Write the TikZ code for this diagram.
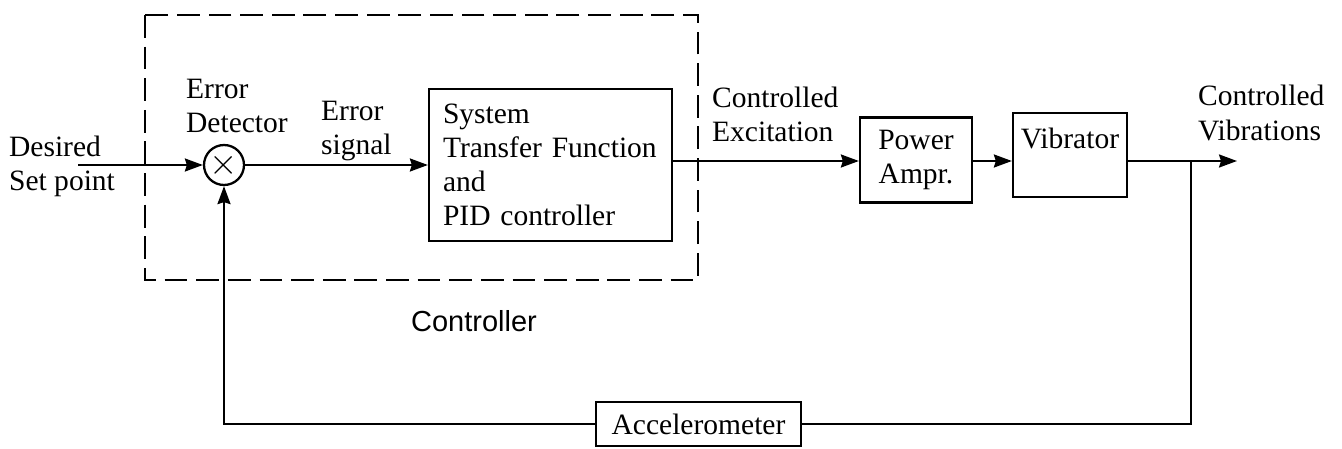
\documentclass[tikz,border=0pt]{standalone}
\usepackage{fontspec}
\setmainfont{Liberation Serif}
\setsansfont{Liberation Sans}
\usepackage{tikz}
\usetikzlibrary{arrows.meta, positioning, calc}

\begin{document}
\begin{tikzpicture}[
    x=0.02cm, y=-0.02cm,
    line width=1.3pt,
    every node/.style={font=\fontsize{16.8pt}{19.4pt}\selectfont},
    lbl/.style={align=left, anchor=west, inner sep=0pt},
    block/.style={draw, line width=1.3pt, rectangle, inner sep=0.3cm},
    sigarrow/.style={-{Stealth[length=3.6mm, width=2.6mm, inset=0.4mm]}},
    ctrlbox/.style={draw, line width=1.3pt, dash pattern=on 13pt off 5pt},
]
\useasboundingbox (0,0) rectangle (1342,449);
\draw[ctrlbox] (145,15) rectangle (698,280);
\node[draw, circle, minimum size=0.8cm, inner sep=0pt, font=\fontsize{22pt}{22pt}\selectfont] (sum) at (224,165) {$\times$};
\node[block, align=left, text width=4.3cm, inner sep=0.28cm, minimum height=3.04cm] (tf) at (550.5,165) {System\\Transfer Function\\and\\PID controller};
\node[block, align=center, minimum width=2.24cm, minimum height=1.7cm, inner sep=0pt] (pwr) at (916,160) {Power\\Ampr.};
\node[block, align=center, minimum width=2.28cm, minimum height=1.68cm, inner sep=0pt] (vib) at (1070,155) {Vibrator\\~};
\node[block, minimum width=4.1cm, minimum height=0.88cm, inner sep=0pt] (acc) at (698.5,424) {Accelerometer};
\coordinate (in) at (78,165);
\coordinate (tap) at (1191,161);
\coordinate (out) at (1237,161);
\node[lbl] (setpt) at (8,166) {Desired\\Set point};
\node[lbl] (errdet) at (185,106) {Error\\Detector};
\node[lbl] (errsig) at (320,131) {Error\\signal};
\node[lbl] (exc) at (711,114) {Controlled\\Excitation};
\node[lbl] (vibs) at (1197,113) {Controlled\\Vibrations};
\node[lbl, font=\sffamily\fontsize{16.5pt}{19.4pt}\selectfont] (ctrl) at (410,321) {Controller};
% forward path
\draw[sigarrow] (in) -- (sum.west);
\draw[sigarrow] (sum.east) -- (sum.east -| tf.west);
\draw[sigarrow] (tf.east |- tap) -- (tap -| pwr.west);
\draw[sigarrow] (pwr.east |- tap) -- (tap -| vib.west);
\draw[sigarrow] (tap -| vib.east) -- (out);
% feedback
\draw (tap) |- (acc.east);
\draw[sigarrow] (acc.west) -| (sum.south);
\end{tikzpicture}
\end{document}
